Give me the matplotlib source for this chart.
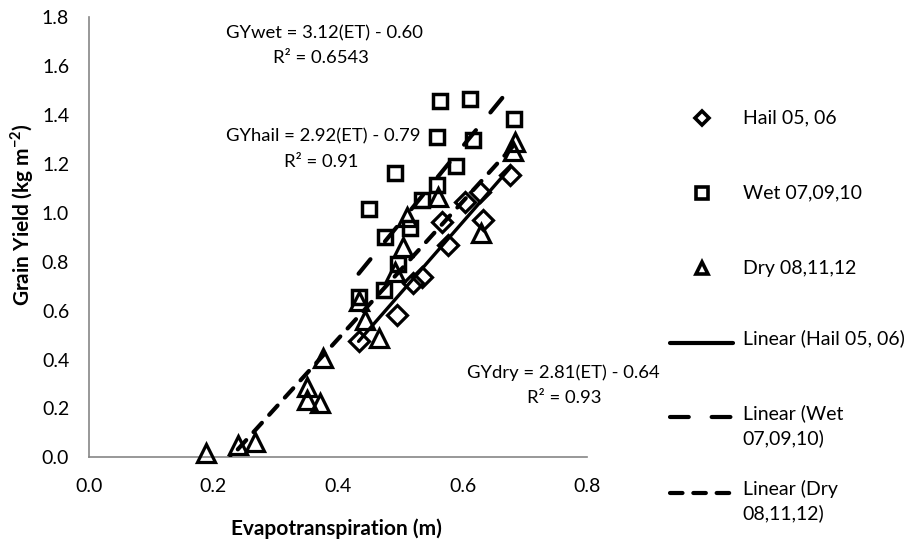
import numpy as np
import matplotlib
matplotlib.use("Agg")
import matplotlib.pyplot as plt
from matplotlib.lines import Line2D
from matplotlib.ticker import MultipleLocator, FormatStrFormatter

plt.rcParams["font.family"] = ["Lato", "DejaVu Sans"]
plt.rcParams["mathtext.fontset"] = "custom"
plt.rcParams["mathtext.rm"] = "Lato"
plt.rcParams["mathtext.bf"] = "Lato:bold"

# ET (m) and grain yield (kg m-2) per season group
hail_et = [0.433, 0.494, 0.521, 0.534, 0.577, 0.566, 0.604, 0.628, 0.633, 0.676]
hail_gy = [0.474, 0.582, 0.712, 0.739, 0.868, 0.964, 1.045, 1.086, 0.971, 1.155]

wet_et = [0.433, 0.473, 0.497, 0.475, 0.449, 0.515, 0.534, 0.491,
          0.559, 0.589, 0.558, 0.617, 0.564, 0.611, 0.683]
wet_gy = [0.657, 0.684, 0.790, 0.902, 1.014, 0.937, 1.052, 1.164,
          1.112, 1.191, 1.311, 1.298, 1.457, 1.466, 1.384]

dry_et = [0.189, 0.239, 0.267, 0.350, 0.350, 0.371, 0.376, 0.433, 0.443,
          0.465, 0.491, 0.505, 0.510, 0.561, 0.630, 0.680, 0.684]
dry_gy = [0.016, 0.050, 0.064, 0.289, 0.234, 0.221, 0.405, 0.640, 0.560,
          0.490, 0.760, 0.861, 0.984, 1.066, 0.916, 1.254, 1.291]

# linear fits (slope, intercept) as printed on the chart
hail_fit = (2.92, -0.79)
wet_fit = (3.12, -0.60)
dry_fit = (2.81, -0.64)

W, H = 907, 541
FS = 13.3        # equation labels
FS_TICK = 14
FS_LEG = 14
FS_TITLE = 15


def fx(px):
    return px / W


def fy(py):
    return 1 - py / H


fig = plt.figure(figsize=(W / 100, H / 100), dpi=100)
ax = fig.add_axes([fx(88.6), fy(457.3), fx(587.4 - 88.6), (457.3 - 17.3) / H])

ax.plot(hail_et, hail_gy, ls="none", marker="D", ms=10, mfc="none",
        mec="black", mew=2.3, zorder=3, clip_on=False)
ax.plot(wet_et, wet_gy, ls="none", marker="s", ms=10, mfc="none",
        mec="black", mew=2.5, zorder=3, clip_on=False)
ax.plot(dry_et, dry_gy, ls="none", marker="^", ms=13, mfc="none",
        mec="black", mew=2.3, zorder=3, clip_on=False)


def trend(et, fit, **kw):
    x = np.array([min(et), max(et)])
    ax.plot(x, fit[0] * x + fit[1], color="black", zorder=4,
            solid_capstyle="round", dash_capstyle="round", **kw)


trend(hail_et, hail_fit, lw=2.4)
trend(wet_et, wet_fit, lw=3.0, dashes=(4.5, 5.5))
trend(dry_et, dry_fit, lw=3.0, dashes=(3.0, 2.6))

ax.set_xlim(0, 0.8)
ax.set_ylim(0, 1.8)
ax.xaxis.set_major_locator(MultipleLocator(0.2))
ax.yaxis.set_major_locator(MultipleLocator(0.2))
ax.xaxis.set_major_formatter(FormatStrFormatter("%.1f"))
ax.yaxis.set_major_formatter(FormatStrFormatter("%.1f"))
ax.tick_params(length=0, labelsize=FS_TICK, colors="black")
ax.tick_params(axis="x", pad=15)
ax.tick_params(axis="y", pad=14)
for side in ["top", "right"]:
    ax.spines[side].set_visible(False)
for side in ["left", "bottom"]:
    ax.spines[side].set_color("#868686")
    ax.spines[side].set_linewidth(1.2)

fig.text(fx(336), fy(529), "Evapotranspiration (m)", fontsize=FS_TITLE,
         fontweight="bold", ha="center", va="center")
fig.text(fx(21.7), fy(215), r"Grain Yield (kg m$^{\mathbf{-2}}$)",
         fontsize=FS_TITLE, fontweight="bold", rotation=90, ha="center", va="center")

# equation labels
fig.text(fx(324), fy(33), "GYwet = 3.12(ET) - 0.60", fontsize=FS, ha="center", va="center")
fig.text(fx(321), fy(58), "R² = 0.6543", fontsize=FS, ha="center", va="center")
fig.text(fx(323), fy(136), "GYhail = 2.92(ET) - 0.79", fontsize=FS, ha="center", va="center")
fig.text(fx(321), fy(162), "R² = 0.91", fontsize=FS, ha="center", va="center")
fig.text(fx(563), fy(373), "GYdry = 2.81(ET) - 0.64", fontsize=FS, ha="center", va="center")
fig.text(fx(564), fy(398), "R² = 0.93", fontsize=FS, ha="center", va="center")

# legend, drawn entry by entry
LX_MARK, LX_TEXT = 701.7, 742.7
marker_entries = [
    (117.7, "D", 7, "Hail 05, 06"),
    (192.7, "s", 8, "Wet 07,09,10"),
    (268.3, "^", 9, "Dry 08,11,12"),
]
for y, m, ms, label in marker_entries:
    fig.add_artist(Line2D([fx(LX_MARK)], [fy(y)], marker=m, ms=ms, mfc="white",
                          mec="black", mew=2.6, transform=fig.transFigure))
    fig.text(fx(LX_TEXT), fy(y), label, fontsize=FS_LEG, ha="left", va="center")

line_entries = [
    (342.7, {"lw": 3.0}, "Linear (Hail 05, 06)"),
    (417.3, {"lw": 3.0, "dashes": (4.5, 5.5)}, "Linear (Wet\n07,09,10)"),
    (492.7, {"lw": 3.0, "dashes": (3.0, 2.6)}, "Linear (Dry\n08,11,12)"),
]
for y, style, label in line_entries:
    fig.add_artist(Line2D([fx(670), fx(733)], [fy(y), fy(y)], color="black",
                          solid_capstyle="round", dash_capstyle="round",
                          transform=fig.transFigure, **style))
    fig.text(fx(LX_TEXT), fy(y - 13), label, fontsize=FS_LEG, ha="left", va="top",
             linespacing=1.45)

fig.savefig("out.png", dpi=100)
